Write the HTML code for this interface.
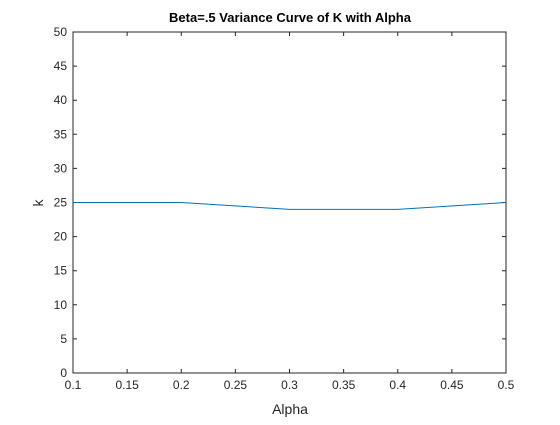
<!DOCTYPE html>
<html><head><style>
body{margin:0;background:#fff;width:560px;height:420px;overflow:hidden;font-family:"Liberation Sans",sans-serif}
svg text{font-family:"Liberation Sans",sans-serif}
</style></head><body>
<svg id="chart" width="560" height="420">
<rect x="0" y="0" width="560" height="420" fill="#fff"/>
<rect x="73" y="32" width="433" height="341" fill="#fff" stroke="#262626" stroke-width="1"/>
<g id="ticks"></g>
<path id="line" fill="none" stroke="#0072bd" stroke-width="1"/>
<text x="290" y="22" text-anchor="middle" font-size="13" font-weight="bold" fill="#000">Beta=.5 Variance Curve of K with Alpha</text>
<text x="290" y="414" text-anchor="middle" font-size="14" fill="#262626">Alpha</text>
<text transform="translate(43,203) rotate(-90)" text-anchor="middle" font-size="14" fill="#262626">k</text>
</svg>
<script>
const alphas=[0.1,0.2,0.3,0.4,0.5];
const kValues=[25,25,24,24,25];
const xTicks=[0.1,0.15,0.2,0.25,0.3,0.35,0.4,0.45,0.5];
const yTicks=[0,5,10,15,20,25,30,35,40,45,50];
const L=73,R=506,T=32,B=373;
const xs=v=>L+(v-0.1)/(0.4)*(R-L);
const ys=v=>B-v/50*(B-T);
const ns="http://www.w3.org/2000/svg";
const g=document.getElementById('ticks');
xTicks.forEach(t=>{
 const x=xs(t);
 const l=document.createElementNS(ns,'path');
 l.setAttribute('d',`M${x},${B}V${B-4}M${x},${T}V${T+4}`);l.setAttribute('stroke','#262626');
 
 
 g.appendChild(l);
 const tx=document.createElementNS(ns,'text');
 tx.setAttribute('x',x);tx.setAttribute('y',B+16);tx.setAttribute('text-anchor','middle');tx.setAttribute('font-size','12');tx.setAttribute('fill','#262626');
 tx.textContent=String(t);
 
 
 g.appendChild(tx);
});
yTicks.forEach(t=>{
 const y=ys(t);
 const l=document.createElementNS(ns,'path');
 l.setAttribute('d',`M${L},${y}H${L+4}M${R},${y}H${R-4}`);l.setAttribute('stroke','#262626');
 
 
 g.appendChild(l);
 const tx=document.createElementNS(ns,'text');
 tx.setAttribute('x',L-6);tx.setAttribute('y',y+4);tx.setAttribute('text-anchor','end');tx.setAttribute('font-size','12');tx.setAttribute('fill','#262626');
 tx.textContent=String(t);
 
 
 g.appendChild(tx);
});
document.getElementById('line').setAttribute('d',alphas.map((a,i)=>(i?'L':'M')+xs(a)+','+ys(kValues[i])).join(''));
</script>
</body></html>
